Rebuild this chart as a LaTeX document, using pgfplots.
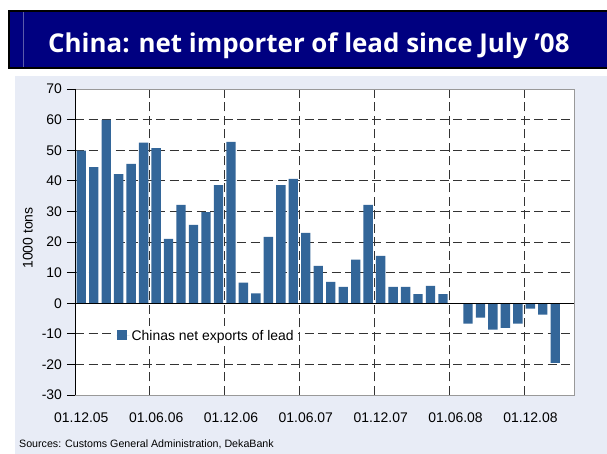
\documentclass[border=0pt]{standalone}
\usepackage{pgfplots}
\pgfplotsset{compat=1.18}
\usepackage{pgfplotstable}
\usepackage{fontspec}
\setmainfont{Liberation Sans}
\newfontfamily\titlefont{Open Sans}
\definecolor{barblue}{RGB}{51,102,153}
\definecolor{lav}{RGB}{232,236,246}
\definecolor{navyb}{RGB}{0,0,128}
\definecolor{navyline}{RGB}{90,90,170}

\pgfplotstableread{
x y
0.5 49.9
1.5 44.5
2.5 59.9
3.5 42.2
4.5 45.5
5.5 52.5
6.5 50.7
7.5 21.0
8.5 32.1
9.5 25.6
10.5 29.8
11.5 38.6
12.5 52.7
13.5 6.7
14.5 3.2
15.5 21.7
16.5 38.6
17.5 40.6
18.5 23.0
19.5 12.2
20.5 7.0
21.5 5.3
22.5 14.2
23.5 32.1
24.5 15.5
25.5 5.3
26.5 5.3
27.5 3.0
28.5 5.7
29.5 3.0
31.5 -6.7
32.5 -4.7
33.5 -8.6
34.5 -8.1
35.5 -6.7
36.5 -1.8
37.5 -3.7
38.5 -19.5
}\leaddata

\begin{document}
\begin{tikzpicture}
\useasboundingbox (0bp,0bp) rectangle (607bp,454bp);
\fill[white] (0bp,0bp) rectangle (607bp,454bp);
\fill[lav] (15bp,0bp) rectangle (607bp,378bp);
\fill[black] (8bp,384.7bp) rectangle (607bp,444bp);
\fill[navyb] (10bp,387.3bp) rectangle (607bp,442.3bp);
\draw[navyline, line width=0.7bp] (23.3bp,387.3bp) -- (23.3bp,442.3bp);
\node[anchor=base west, text=white, inner sep=0pt, font=\titlefont\bfseries\fontsize{26}{30}\selectfont] at (48bp,401.7bp) {China: net importer of lead since July ’08};
\node[anchor=base west, inner sep=0pt, font=\fontsize{10.7}{12}\selectfont] at (19bp,7bp) {Sources: Customs General Administration, DekaBank};
\begin{axis}[
  at={(75bp,59bp)}, anchor=south west,
  scale only axis, width=499bp, height=306bp,
  xmin=0, xmax=40, ymin=-30, ymax=70,
  ytick={-30,-20,...,70},
  xtick={0,6,...,36},
  xticklabels={01.12.05,01.06.06,01.12.06,01.06.07,01.12.07,01.06.08,01.12.08},
  /pgf/number format/assume math mode=true,
  axis background/.style={fill=white},
  axis line style={draw=black!40, line width=0.8bp},
  tick align=outside,
  ytick pos=left,
  major tick length=8bp,
  ytick style={black, line width=0.8bp},
  xtick style={draw=none},
  xmajorgrids, ymajorgrids,
  grid style={black!80, dash pattern=on 9bp off 4.5bp, line width=0.9bp},
  ticklabel style={font=\fontsize{14}{16}\selectfont},
  xticklabel style={xshift=6.3bp, yshift=-6bp},
  yticklabel style={xshift=-1.5bp},
  ylabel={1000 tons},
  ylabel style={at={(axis description cs:-0.0944,0.513)}, anchor=center, font=\fontsize{14}{16}\selectfont},
  legend style={at={(rel axis cs:0.078,0.193)}, anchor=west, draw=none, fill=white, font=\fontsize{14}{16}\selectfont, inner sep=2.5bp},
  ybar, bar width=0.75,
]
\addplot[fill=barblue, draw=none, legend image code/.code={\fill[barblue] (0bp,-4.5bp) rectangle (10bp,5.5bp); \path (0bp,0bp) -- (13bp,0bp);}] table[x=x, y=y] {\leaddata};
\addlegendentry{Chinas net exports of lead}
\draw[black, line width=0.9bp] (axis cs:0,0) -- (axis cs:40,0);
\draw[black!40, line width=0.8bp] (rel axis cs:0,1) -- (rel axis cs:1,1) -- (rel axis cs:1,0);
\draw[black, line width=0.9bp] (rel axis cs:0,1) -- (rel axis cs:0,0) -- (rel axis cs:1,0);
\end{axis}
\end{tikzpicture}
\end{document}
